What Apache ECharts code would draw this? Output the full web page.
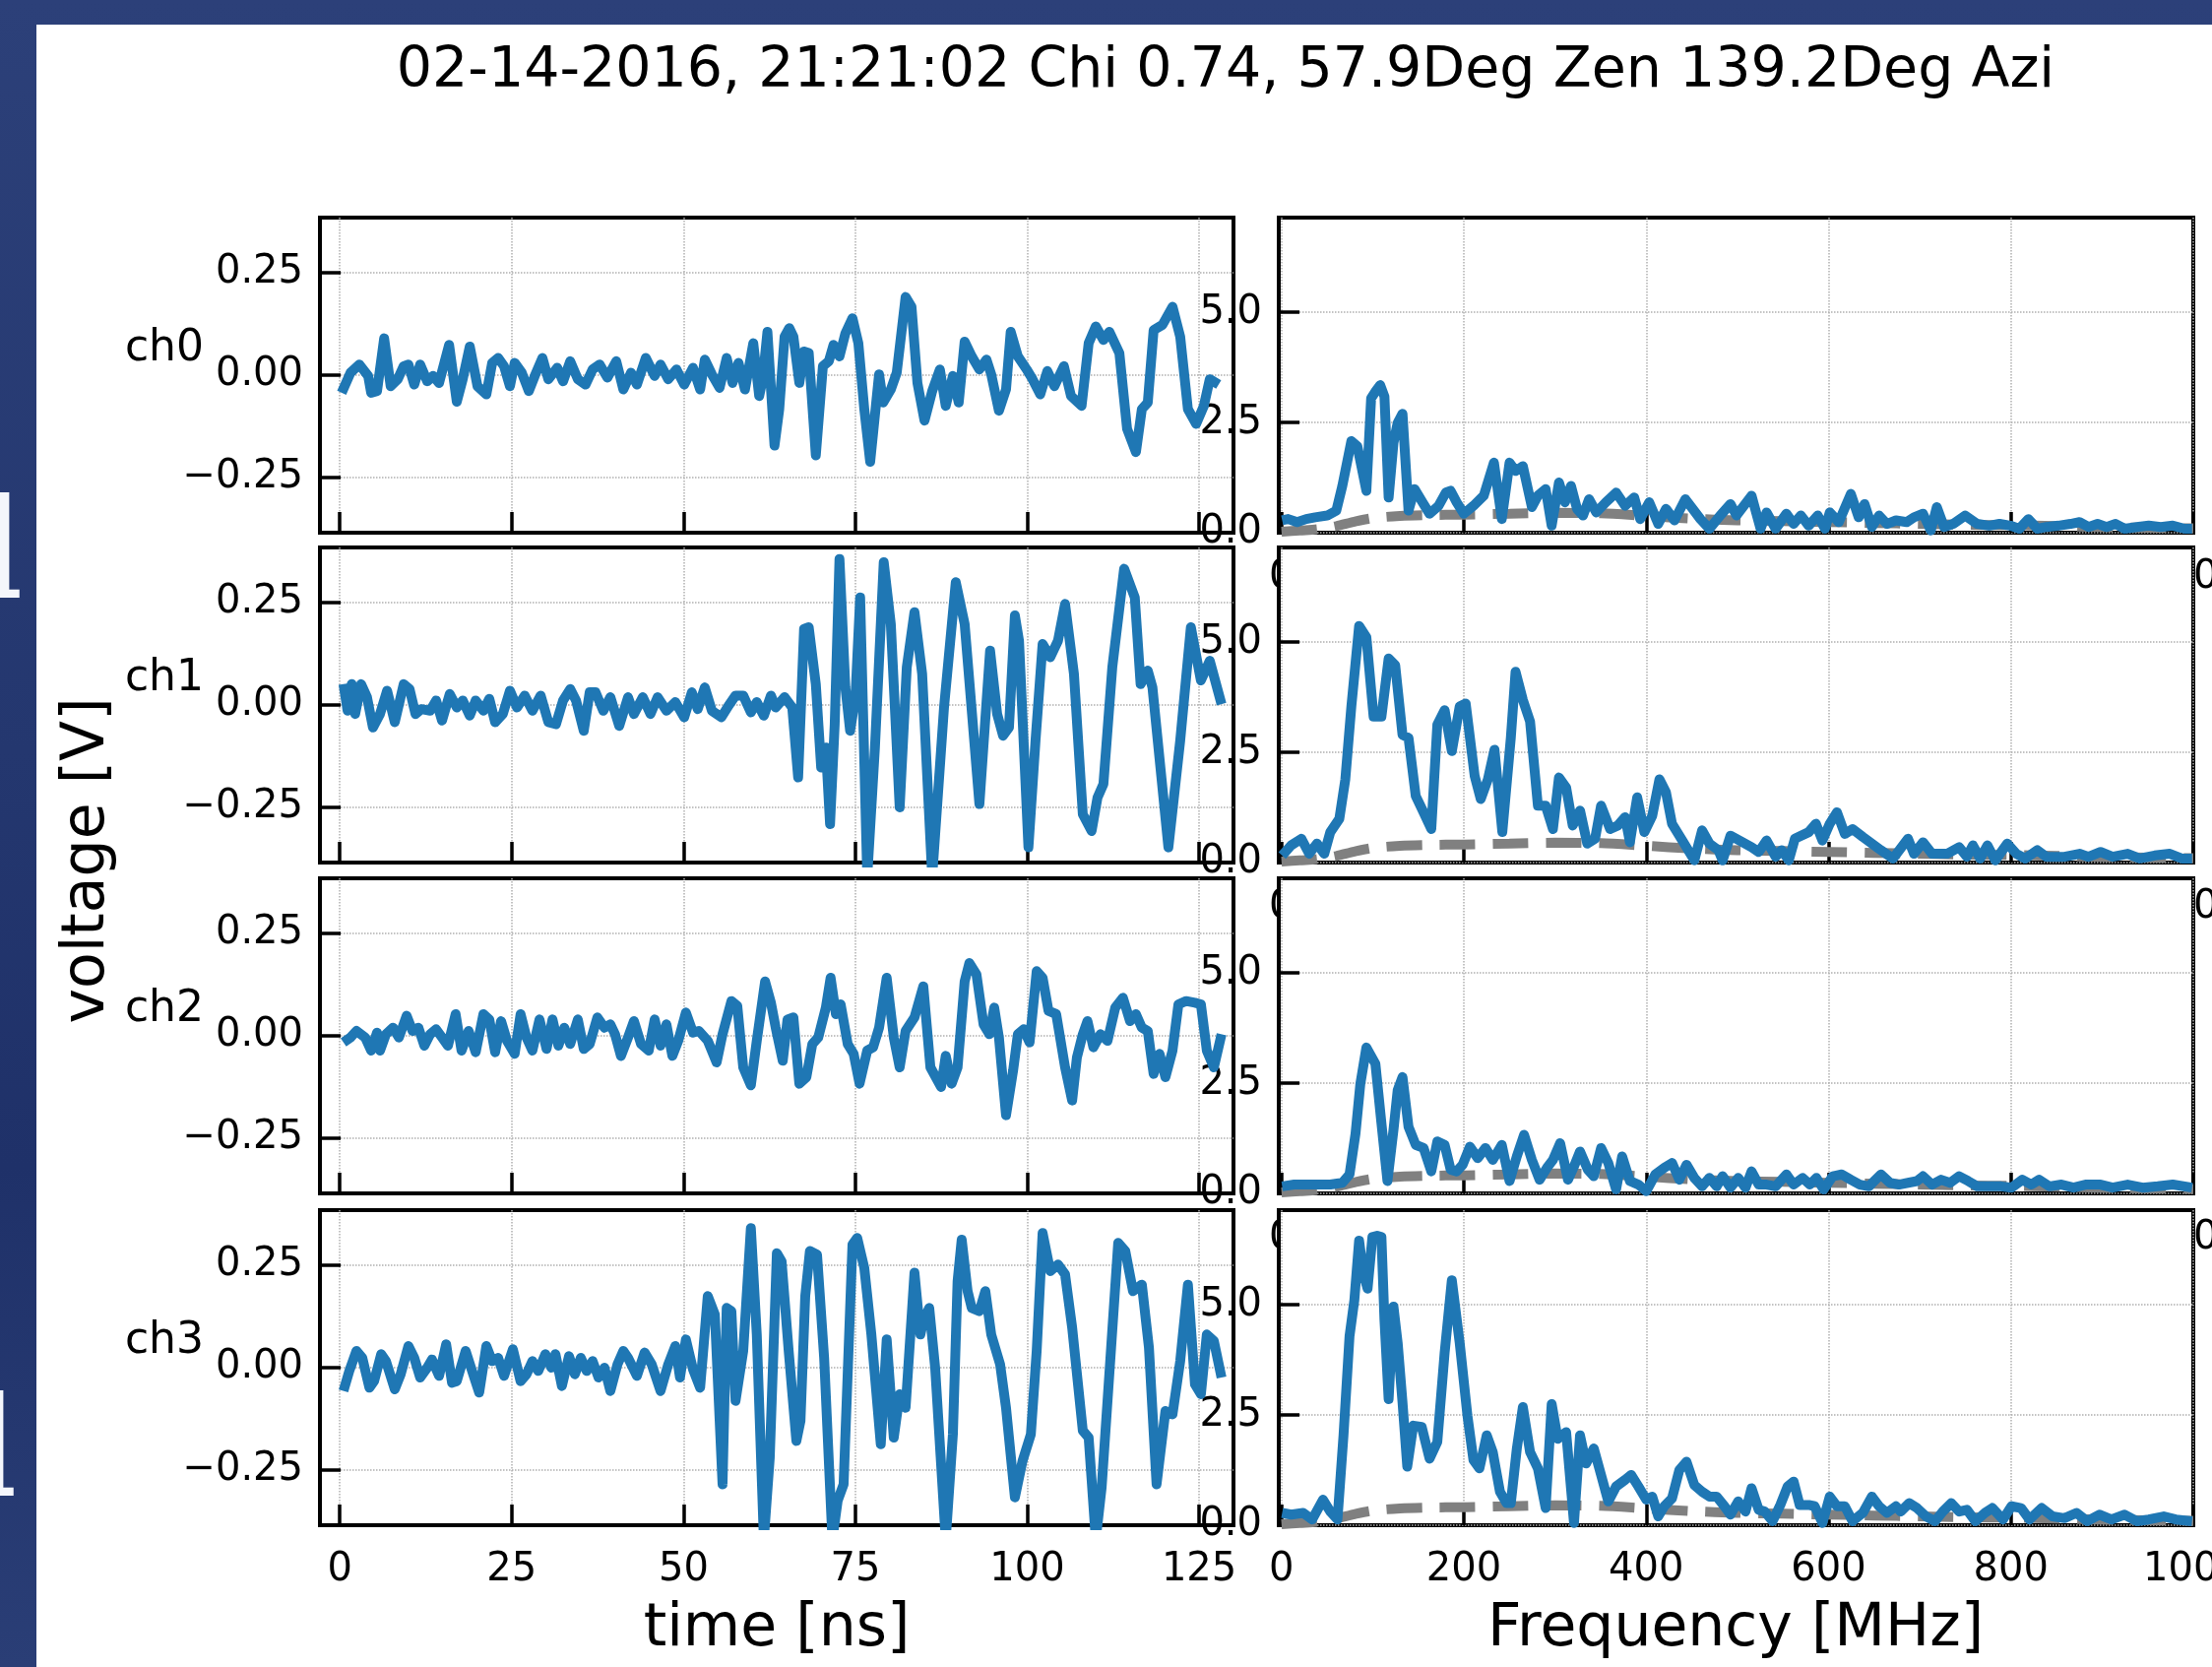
<!DOCTYPE html>
<html><head><meta charset="utf-8">
<script src="https://cdn.jsdelivr.net/npm/echarts@6/dist/echarts.min.js"></script>
<style>
html,body{margin:0;padding:0;width:2247px;height:1693px;overflow:hidden;background:linear-gradient(180deg,#2c4079 0%,#24376f 45%,#1f3169 70%,#2a3e76 100%);}
#paper{position:absolute;left:37px;top:25px;width:2210px;height:1668px;background:#fff;}
#c{position:absolute;left:0;top:0;width:2247px;height:1693px;}
.bgl{position:absolute;color:#f4f6fb;font-family:"DejaVu Serif";font-weight:bold;font-size:140px;line-height:1;}
</style>
</head><body>
<div class="bgl" style="left:-30px;top:488px;">l</div>
<div class="bgl" style="left:-36px;top:1400px;">l</div>
<div id="paper"></div>
<div id="c"></div>
<script>
// ---------------- tick labels / text ----------------
const titleText = '02-14-2016, 21:21:02 Chi 0.74, 57.9Deg Zen 139.2Deg Azi';
const channelNames = ['ch0', 'ch1', 'ch2', 'ch3'];
const timeTicks = [0, 25, 50, 75, 100, 125];
const freqTicks = [0, 200, 400, 600, 800, 1000];
const voltTicks = [-0.25, 0, 0.25];
const ampTicks = [0, 2.5, 5];

// ---------------- time traces (ns, V) ----------------
const ch0_t = [0.26,1.55,2.84,4.12,4.55,5.41,6.44,7.39,8.42,9.28,9.97,10.82,11.68,12.71,13.57,14.43,15.89,17.01,17.87,18.90,20.02,21.31,22.16,23.02,23.88,24.74,25.43,26.46,27.49,28.35,29.47,30.33,31.62,32.47,33.51,34.62,35.74,36.77,37.80,38.92,40.21,41.24,42.35,43.21,44.50,45.79,46.65,47.77,48.97,50.09,51.37,52.41,53.09,54.12,55.24,56.27,57.13,57.99,58.93,60.14,61.00,61.51,62.20,63.23,63.92,64.69,65.38,65.98,66.84,67.53,68.21,69.24,70.27,71.13,71.82,72.68,73.54,74.57,75.43,76.29,77.15,78.44,79.04,80.15,81.01,82.30,83.16,84.02,85.05,86.17,87.29,88.14,89.18,90.03,90.89,91.92,93.04,94.07,94.76,95.88,96.91,97.59,98.63,99.91,100.77,101.89,102.92,103.95,105.33,106.36,107.90,108.93,109.97,111.08,111.94,113.40,114.52,115.81,116.67,117.53,118.38,119.67,121.13,122.25,123.37,124.57,125.69,126.55,127.84];
const ch0_v = [-0.043,0.006,0.026,-0.002,-0.043,-0.039,0.090,-0.027,-0.010,0.022,0.026,-0.023,0.026,-0.015,-0.002,-0.019,0.074,-0.065,-0.010,0.070,-0.027,-0.047,0.030,0.042,0.022,-0.027,0.030,0.006,-0.039,-0.002,0.042,-0.010,0.018,-0.015,0.034,-0.010,-0.023,0.014,0.026,-0.006,0.034,-0.035,0.006,-0.023,0.042,-0.002,0.026,-0.010,0.014,-0.023,0.018,-0.035,0.038,0.002,-0.031,0.042,-0.019,0.030,-0.035,0.078,-0.051,-0.010,0.106,-0.172,-0.083,0.094,0.115,0.094,-0.019,0.058,0.054,-0.196,0.022,0.034,0.074,0.046,0.102,0.139,0.078,-0.083,-0.212,0.002,-0.067,-0.035,0.006,0.191,0.167,-0.019,-0.111,-0.039,0.014,-0.075,-0.002,-0.067,0.082,0.046,0.014,0.038,0.002,-0.087,-0.035,0.106,0.046,0.014,-0.010,-0.047,0.010,-0.027,0.022,-0.051,-0.075,0.078,0.119,0.086,0.106,0.054,-0.131,-0.188,-0.083,-0.067,0.110,0.123,0.167,0.094,-0.083,-0.119,-0.075,-0.010,-0.023];

const ch1_t = [0.52,1.12,1.72,2.23,3.09,3.95,4.81,5.84,6.87,7.99,9.28,10.14,11.00,11.86,13.14,14.00,14.86,15.98,17.01,17.87,18.90,19.76,20.88,21.74,22.59,23.71,24.74,25.77,26.89,28.01,29.21,30.33,31.44,32.47,33.51,34.36,35.48,36.34,37.20,38.32,39.35,40.64,41.92,42.78,44.07,45.19,46.22,47.51,48.80,50.09,51.20,52.06,53.09,54.12,55.50,56.53,57.56,58.68,59.79,60.65,61.68,62.71,63.40,64.69,65.81,66.67,67.53,68.21,69.24,70.02,70.70,71.31,71.99,72.68,73.54,74.23,75.00,75.69,76.72,77.84,79.12,80.15,81.44,82.47,83.59,84.71,86.17,87.89,89.60,90.89,93.04,94.59,95.62,96.48,97.34,98.20,98.80,100.17,101.20,102.23,103.35,104.47,105.50,106.79,108.08,109.36,110.22,111.08,112.37,114.09,115.64,116.49,117.53,118.21,120.53,122.25,123.80,125.26,126.55,128.26];
const ch1_v = [0.051,-0.014,0.051,-0.022,0.051,0.019,-0.055,-0.022,0.035,-0.042,0.051,0.039,-0.022,-0.010,-0.014,0.011,-0.038,0.027,-0.006,0.011,-0.026,0.011,-0.014,0.015,-0.042,-0.022,0.035,-0.006,0.023,-0.014,0.023,-0.042,-0.047,0.011,0.039,0.011,-0.063,0.031,0.031,-0.014,0.019,-0.051,0.019,-0.022,0.019,-0.022,0.019,-0.014,0.007,-0.030,0.031,-0.010,0.043,-0.014,-0.030,-0.002,0.023,0.023,-0.018,0.007,-0.026,0.023,-0.006,0.019,-0.006,-0.177,0.186,0.190,0.051,-0.153,-0.104,-0.291,-0.046,0.357,0.043,-0.063,0.019,0.263,-0.42,-0.104,0.349,0.198,-0.250,0.092,0.227,0.076,-0.42,-0.006,0.300,0.198,-0.242,0.133,-0.022,-0.075,-0.055,0.219,0.157,-0.348,-0.087,0.149,0.117,0.157,0.247,0.076,-0.267,-0.308,-0.226,-0.193,0.092,0.333,0.263,0.051,0.084,0.043,-0.348,-0.087,0.190,0.060,0.108,0.002];

const ch2_t = [0.52,1.55,2.41,3.69,4.55,5.41,5.84,6.70,7.73,8.59,9.71,10.57,11.43,12.29,13.14,14.00,14.86,15.72,16.84,17.70,18.73,19.76,20.88,21.74,22.59,23.45,24.31,25.43,26.29,27.15,28.01,29.04,30.07,30.93,31.79,32.65,33.51,34.62,35.48,36.34,37.46,38.49,39.35,40.03,40.89,41.92,42.78,43.81,44.93,45.79,46.65,47.51,48.37,49.23,50.34,51.37,52.23,53.52,54.81,55.67,56.96,57.82,58.68,59.79,60.65,61.86,62.71,63.40,64.43,65.12,65.98,66.84,67.87,68.73,69.59,70.70,71.39,72.16,72.85,73.88,74.74,75.60,76.72,77.58,78.44,79.55,80.58,81.44,82.30,83.59,84.88,85.91,87.46,88.14,89.00,89.86,90.89,91.58,92.61,93.64,94.50,95.19,95.88,96.91,97.94,98.63,99.48,100.34,101.37,102.23,103.09,104.21,105.50,106.53,107.22,108.08,108.76,109.62,110.65,111.68,112.80,113.92,114.95,115.81,116.67,117.53,118.38,119.24,120.10,121.13,121.99,123.11,124.40,125.26,126.12,127.15,128.26];
const ch2_v = [-0.016,-0.004,0.012,-0.004,-0.036,0.008,-0.036,0.004,0.020,-0.004,0.049,0.012,0.020,-0.024,0.004,0.016,-0.004,-0.024,0.053,-0.036,0.012,-0.040,0.053,0.040,-0.040,0.036,-0.012,-0.044,0.053,-0.004,-0.036,0.040,-0.032,0.040,-0.024,0.020,-0.020,0.040,-0.032,-0.020,0.045,0.020,0.028,0.004,-0.049,-0.004,0.036,-0.020,-0.036,0.040,-0.024,0.028,-0.049,-0.012,0.057,0.008,0.012,-0.012,-0.065,0.004,0.085,0.073,-0.077,-0.121,-0.012,0.133,0.081,0.020,-0.061,0.040,0.045,-0.117,-0.101,-0.020,-0.004,0.069,0.142,0.053,0.077,-0.020,-0.044,-0.117,-0.036,-0.028,0.020,0.142,-0.004,-0.077,0.012,0.045,0.121,-0.077,-0.125,-0.049,-0.117,-0.077,0.133,0.178,0.150,0.028,0.004,0.069,-0.004,-0.194,-0.085,0.004,0.016,-0.016,0.158,0.142,0.061,0.053,-0.077,-0.158,-0.053,0.004,0.036,-0.028,0.004,-0.012,0.069,0.093,0.036,0.053,0.020,0.012,-0.093,-0.044,-0.101,-0.036,0.077,0.085,0.081,0.077,-0.036,-0.077,0.004];

const ch3_t = [0.52,1.37,2.41,3.26,4.30,4.98,6.01,6.70,7.99,8.85,9.97,10.82,11.68,12.71,13.40,14.43,15.46,16.32,17.01,18.30,19.16,20.27,21.31,22.16,23.02,23.88,25.17,26.29,27.15,28.01,28.87,29.90,30.76,31.36,32.30,33.33,34.19,35.05,35.91,36.77,37.63,38.49,39.35,40.38,41.24,41.92,43.21,44.33,45.36,46.65,47.77,48.80,49.48,50.34,51.37,52.41,53.52,54.55,55.67,56.27,56.96,57.56,58.68,59.79,60.65,61.68,62.54,63.57,64.26,65.29,66.41,67.01,67.70,68.38,69.42,70.45,71.65,72.42,73.28,74.57,75.26,76.29,77.32,78.69,79.55,80.58,81.44,82.30,83.59,84.45,84.88,85.74,86.60,88.14,89.18,89.86,90.46,91.32,91.92,93.04,93.90,94.76,96.05,96.91,98.20,99.31,100.52,101.37,102.23,103.35,104.47,105.50,106.53,108.08,108.93,109.97,110.82,112.20,113.23,114.26,115.38,116.67,117.70,118.81,120.10,121.13,122.25,123.37,124.40,125.26,126.12,127.15,128.26];
const ch3_v = [-0.057,-0.008,0.041,0.024,-0.049,-0.033,0.033,0.016,-0.053,-0.016,0.053,0.024,-0.024,0.000,0.020,-0.020,0.057,-0.037,-0.033,0.041,-0.004,-0.061,0.053,0.016,0.024,-0.020,0.045,-0.033,-0.016,0.016,-0.008,0.033,0.000,0.033,-0.045,0.028,-0.016,0.024,-0.008,0.016,-0.024,0.000,-0.057,0.008,0.041,0.024,-0.020,0.037,0.008,-0.057,0.008,0.053,-0.024,0.069,-0.004,-0.049,0.175,0.130,-0.285,0.146,0.138,-0.081,0.041,0.341,0.081,-0.42,-0.220,0.280,0.260,0.041,-0.179,-0.130,0.175,0.285,0.276,0.024,-0.42,-0.325,-0.285,0.301,0.317,0.244,0.081,-0.187,0.069,-0.171,-0.065,-0.098,0.232,0.081,0.114,0.146,0.000,-0.42,-0.163,0.211,0.313,0.187,0.146,0.138,0.187,0.081,0.008,-0.098,-0.317,-0.228,-0.163,0.041,0.329,0.236,0.252,0.228,0.098,-0.154,-0.171,-0.42,-0.293,0.049,0.305,0.285,0.187,0.203,0.049,-0.285,-0.106,-0.114,0.016,0.203,-0.041,-0.065,0.081,0.065,-0.024];

// ---------------- spectra (MHz, amplitude) ----------------
const spec0_f = [0.7,7.3,17.2,27.1,37.0,50.2,60.1,66.7,76.6,83.2,93.1,98.3,103.0,108.2,112.9,117.5,122.8,127.4,132.7,139.3,145.9,155.8,162.4,172.3,180.2,185.5,192.1,200.0,210.5,221.8,233.0,241.6,250.1,256.7,264.7,274.6,281.2,289.7,296.3,304.3,310.9,317.5,324.1,330.7,337.3,345.2,355.7,367.0,376.9,386.8,393.4,403.3,413.2,421.7,431.0,442.9,449.5,459.4,469.3,481.1,492.4,499.0,515.5,525.4,532.0,541.9,553.7,561.7,569.6,578.2,588.1,596.0,601.3,611.2,624.4,633.0,639.5,647.5,655.4,664.0,673.9,685.7,693.7,703.6,712.1,718.7,726.7,736.6,749.8,763.0,776.2,787.4,799.3,809.2,819.1,829.0,838.9,852.1,865.3,875.2,885.1,895.0,904.9,914.8,924.7,937.9,951.1,964.3,977.5,990.7,998.6];
const spec0_a = [0.28,0.31,0.24,0.31,0.35,0.39,0.50,1.06,2.08,1.96,0.95,3.05,3.20,3.35,3.09,0.80,2.04,2.49,2.70,0.50,0.99,0.65,0.43,0.61,0.91,0.95,0.69,0.43,0.61,0.84,1.59,0.31,1.59,1.40,1.51,0.58,0.84,0.99,0.16,1.14,0.69,1.06,0.54,0.39,0.76,0.46,0.69,0.91,0.61,0.80,0.31,0.69,0.20,0.54,0.28,0.76,0.58,0.31,0.09,0.39,0.65,0.39,0.84,0.09,0.46,0.09,0.43,0.20,0.39,0.16,0.39,0.09,0.46,0.24,0.88,0.35,0.65,0.13,0.39,0.20,0.28,0.24,0.35,0.43,0.05,0.58,0.13,0.20,0.39,0.20,0.16,0.20,0.16,0.09,0.31,0.09,0.13,0.16,0.20,0.24,0.13,0.20,0.13,0.20,0.09,0.13,0.16,0.13,0.16,0.09,0.09];

const spec1_f = [0.7,10.6,21.8,30.4,38.9,46.9,53.5,63.4,70.0,76.6,85.1,93.1,101.0,109.6,117.5,124.7,132.7,139.3,147.2,155.8,164.3,170.9,178.9,186.8,195.4,202.0,211.9,218.5,226.4,233.6,242.2,251.5,256.7,264.7,272.6,281.2,289.7,297.7,304.3,312.2,319.4,327.4,335.3,343.9,350.5,360.4,368.9,376.9,382.1,390.1,398.0,406.6,414.5,421.7,428.3,439.6,452.8,461.3,469.3,479.2,483.8,492.4,502.3,515.5,523.4,532.0,541.9,548.5,556.4,563.0,578.2,586.1,593.3,601.3,609.2,617.8,626.3,637.6,647.5,657.4,670.6,687.1,693.7,703.6,713.5,730.0,743.2,751.7,758.3,766.3,774.2,782.8,796.0,805.9,815.8,829.0,838.9,858.7,875.2,885.1,898.3,911.5,928.0,941.2,957.7,974.2,987.4,998.6];
const spec1_a = [0.16,0.39,0.54,0.20,0.43,0.20,0.69,0.99,1.89,3.54,5.37,5.11,3.31,3.31,4.63,4.48,2.90,2.83,1.51,1.14,0.76,3.13,3.46,2.53,3.54,3.61,1.96,1.44,1.89,2.56,0.69,2.83,4.33,3.69,3.20,1.29,1.29,0.76,1.93,1.70,0.84,1.18,0.43,0.54,1.29,0.76,0.84,1.03,0.46,1.48,0.69,1.06,1.89,1.59,0.88,0.50,0.05,0.73,0.43,0.28,0.05,0.61,0.50,0.35,0.24,0.50,0.13,0.28,0.05,0.54,0.69,0.88,0.50,0.88,1.14,0.65,0.76,0.58,0.43,0.28,0.09,0.54,0.20,0.46,0.20,0.20,0.35,0.13,0.39,0.09,0.39,0.05,0.43,0.20,0.09,0.28,0.13,0.13,0.20,0.13,0.24,0.13,0.20,0.09,0.16,0.20,0.09,0.09];

const spec2_f = [0.7,13.9,33.7,53.5,66.7,74.6,81.2,86.5,93.1,103.0,109.6,116.2,122.8,127.4,132.7,139.3,147.2,155.8,164.3,170.9,178.9,185.5,192.1,198.7,206.6,215.2,223.7,231.7,241.6,250.1,258.1,266.0,274.6,283.1,291.1,297.7,305.6,314.2,320.8,327.4,335.9,342.5,350.5,358.4,367.0,373.6,382.1,391.4,400.0,409.9,419.8,428.3,436.3,444.2,452.8,461.3,469.3,477.2,483.8,492.4,500.9,508.9,515.5,523.4,532.0,541.9,553.7,561.7,571.6,579.5,586.7,594.7,604.6,614.5,624.4,634.3,644.2,657.4,667.3,677.2,687.1,697.0,703.6,713.5,723.4,733.3,743.2,753.1,763.0,776.2,789.4,800.6,812.5,822.4,831.0,842.2,855.4,868.6,881.8,898.3,911.5,928.0,944.5,961.0,977.5,998.6];
const spec2_a = [0.16,0.20,0.20,0.20,0.24,0.43,1.36,2.49,3.31,2.94,1.59,0.28,1.44,2.34,2.64,1.51,1.10,1.03,0.50,1.18,1.10,0.54,0.50,0.65,1.06,0.80,1.03,0.76,1.10,0.28,0.84,1.33,0.76,0.31,0.58,0.76,1.14,0.31,0.61,0.95,0.54,0.39,1.03,0.69,0.09,0.84,0.28,0.20,0.05,0.43,0.58,0.69,0.31,0.65,0.35,0.16,0.35,0.16,0.39,0.13,0.35,0.13,0.50,0.20,0.20,0.16,0.43,0.20,0.35,0.20,0.35,0.09,0.39,0.43,0.31,0.20,0.16,0.43,0.24,0.20,0.24,0.28,0.39,0.20,0.31,0.24,0.39,0.28,0.16,0.16,0.16,0.13,0.31,0.20,0.31,0.16,0.20,0.13,0.20,0.20,0.13,0.20,0.13,0.16,0.20,0.13];

const spec3_f = [0.7,10.6,23.8,33.7,45.5,53.5,61.4,68.0,74.6,79.9,85.1,89.8,94.4,99.7,104.9,109.6,112.9,117.5,122.8,127.4,132.7,137.9,144.5,153.8,162.4,170.9,178.9,186.8,195.4,203.9,210.5,217.1,225.1,231.7,239.6,246.8,251.5,258.1,264.7,272.6,281.2,289.7,296.3,302.9,312.2,320.8,327.4,334.0,342.5,350.5,358.4,367.0,376.9,383.5,391.4,400.0,406.6,413.2,419.8,428.3,436.3,444.2,452.8,461.3,469.3,477.2,485.8,492.4,500.9,508.9,515.5,523.4,530.0,538.6,547.1,555.1,561.7,568.3,578.2,584.8,593.3,601.3,609.2,617.8,626.3,637.6,647.5,655.4,664.0,673.9,679.1,688.4,697.0,706.9,716.8,725.3,734.6,743.2,751.7,761.0,771.5,779.5,791.3,800.6,811.1,820.4,833.6,845.5,858.7,871.9,883.7,896.9,910.1,924.7,937.9,951.1,967.6,980.8,998.6];
const spec3_a = [0.28,0.24,0.28,0.13,0.58,0.31,0.13,2.04,4.29,5.11,6.46,5.71,5.37,6.54,6.57,6.54,4.66,2.86,4.96,4.14,2.79,1.33,2.26,2.23,1.51,1.89,3.91,5.56,4.14,2.49,1.48,1.29,2.04,1.66,0.76,0.50,0.50,1.74,2.68,1.66,1.29,0.39,2.75,1.96,2.11,0.05,2.04,1.40,1.74,1.14,0.54,0.88,1.03,1.14,0.88,0.58,0.65,0.20,0.43,0.61,1.25,1.44,0.91,0.76,0.65,0.65,0.43,0.24,0.54,0.31,0.84,0.35,0.31,0.09,0.46,0.88,0.99,0.46,0.46,0.43,0.05,0.65,0.43,0.43,0.09,0.28,0.65,0.43,0.28,0.43,0.31,0.50,0.39,0.20,0.09,0.31,0.50,0.31,0.35,0.09,0.28,0.39,0.13,0.43,0.39,0.13,0.39,0.20,0.16,0.28,0.09,0.24,0.13,0.24,0.09,0.13,0.20,0.13,0.09];

// noise reference (grey dashed) spectrum
const noise_f = [0,20,40,60,80,100,130,160,200,250,300,350,400,450,500,550,600,650,700,750,800,850,900,950,1000];
const noise_a = [0.02,0.05,0.08,0.15,0.25,0.33,0.38,0.40,0.41,0.43,0.45,0.44,0.38,0.32,0.28,0.26,0.24,0.22,0.20,0.18,0.17,0.15,0.13,0.11,0.10];

// ---------------- build ----------------
const timeData = [[ch0_t, ch0_v], [ch1_t, ch1_v], [ch2_t, ch2_v], [ch3_t, ch3_v]];
const specData = [[spec0_f, spec0_a], [spec1_f, spec1_a], [spec2_f, spec2_a], [spec3_f, spec3_a]];
function zip(a, b) { const n = Math.min(a.length, b.length); const o = []; for (let i = 0; i < n; i++) o.push([a[i], b[i]]); return o; }

const FONT = 'DejaVu Sans';
const BLUE = '#1f77b4';
const rowTop = [221, 556, 892, 1229];
const rowH = 320;
const LX = 325, LW = 928, RX = 1299, RW = 929;

const grids = [], xAxes = [], yAxes = [], series = [];
const gridLine = { type: 'dotted', color: '#b0b0b0', width: 1.5 };
const tick = (vals) => ({ show: true, inside: true, length: 21, lineStyle: { color: '#000', width: 3.5 }, customValues: vals });
const lab = (vals, fmt, margin) => ({ show: true, customValues: vals, formatter: fmt, fontSize: 40, fontFamily: FONT, color: '#000', margin: margin, hideOverlap: false });
const fmtV = v => (v < 0 ? '\u2212' : '') + Math.abs(v).toFixed(2);
const fmtA = v => v.toFixed(1);
const fmtI = v => String(Math.round(v));
const noLine = { show: false, onZero: false };

for (let r = 0; r < 4; r++) {
  const zb = 10 * r;
  const gbase = { top: rowTop[r], height: rowH, show: true, backgroundColor: '#fff', borderColor: '#000', borderWidth: 4, z: zb + 1, containLabel: false, outerBoundsMode: 'none' };
  grids.push(Object.assign({ left: LX, width: LW }, gbase));
  grids.push(Object.assign({ left: RX, width: RW }, gbase));
  const gl = 2 * r, gr = 2 * r + 1;
  xAxes.push({ gridIndex: gl, type: 'value', position: 'bottom', min: -2.9, max: 130, z: zb + 2,
    axisLine: noLine, axisTick: tick(timeTicks), axisLabel: lab(timeTicks, fmtI, 26),
    splitLine: { show: true, lineStyle: gridLine } });
  yAxes.push({ gridIndex: gl, type: 'value', position: 'left', min: -0.385, max: 0.385, z: zb + 2,
    axisLine: noLine, axisTick: tick(voltTicks), axisLabel: lab(voltTicks, fmtV, 17),
    splitLine: { show: true, lineStyle: gridLine } });
  xAxes.push({ gridIndex: gr, type: 'value', position: 'bottom', min: -3, max: 1000, z: zb + 2,
    axisLine: noLine, axisTick: tick(freqTicks), axisLabel: lab(freqTicks, fmtI, 26),
    splitLine: { show: true, lineStyle: gridLine } });
  yAxes.push({ gridIndex: gr, type: 'value', position: 'left', min: 0, max: 7.15, z: zb + 2,
    axisLine: noLine, axisTick: tick(ampTicks), axisLabel: lab(ampTicks, fmtA, 17),
    splitLine: { show: true, lineStyle: gridLine } });

  series.push({ type: 'line', xAxisIndex: gl, yAxisIndex: gl, data: zip(timeData[r][0], timeData[r][1]),
    showSymbol: false, symbol: 'none', clip: true, silent: true, animation: false, z: zb + 3,
    lineStyle: { color: BLUE, width: 10, join: 'round', cap: 'butt' } });
  series.push({ type: 'line', xAxisIndex: gr, yAxisIndex: gr, data: zip(noise_f, noise_a),
    showSymbol: false, symbol: 'none', clip: true, silent: true, animation: false, z: zb + 3, smooth: 0.3,
    lineStyle: { color: '#808080', width: 10, type: [36, 18], cap: 'butt' } });
  series.push({ type: 'line', xAxisIndex: gr, yAxisIndex: gr, data: zip(specData[r][0], specData[r][1]),
    showSymbol: false, symbol: 'none', clip: true, silent: true, animation: false, z: zb + 4,
    lineStyle: { color: BLUE, width: 10, join: 'round', cap: 'butt' } });
}

const txt = (x, y, text, size, align, extra) => Object.assign({
  type: 'text', x: x, y: y, z: 100, silent: true,
  style: { text: text, fontSize: size, fontFamily: FONT, fill: '#000', align: align, verticalAlign: 'middle', textAlign: align, textVerticalAlign: 'middle' }
}, extra || {});

const graphics = [
  txt(1245, 73, titleText, 57, 'center'),
  txt(789, 1655, 'time [ns]', 60, 'center'),
  txt(1763, 1655, 'Frequency [MHz]', 60, 'center'),
  txt(89, 874, 'voltage [V]', 60, 'center', { rotation: Math.PI / 2 })
];
for (let r = 0; r < 4; r++) graphics.push(txt(207, 355 + (rowTop[r] - rowTop[0]), channelNames[r], 44, 'right'));

const chart = echarts.init(document.getElementById('c'), null, { renderer: 'canvas', width: 2247, height: 1693 });
chart.setOption({
  animation: false,
  backgroundColor: 'transparent',
  grid: grids, xAxis: xAxes, yAxis: yAxes, series: series,
  graphic: { elements: graphics }
});
</script>
</body></html>
